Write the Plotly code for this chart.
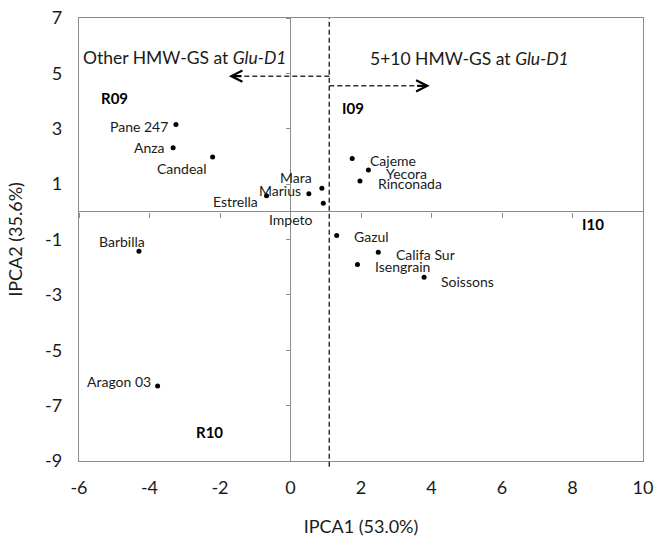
import plotly.graph_objects as go

# ---- data ----
names = ["Pane 247", "Anza", "Candeal", "Estrella", "Marius", "Mara", "Impeto",
         "Cajeme", "Yecora", "Rinconada", "Gazul", "Califa Sur", "Isengrain",
         "Soissons", "Barbilla", "Aragon 03"]
ipca1 = [-3.25, -3.33, -2.21, -0.68, 0.52, 0.89, 0.93,
         1.75, 2.21, 1.97, 1.31, 2.49, 1.90, 3.79, -4.30, -3.77]
ipca2 = [3.15, 2.31, 1.98, 0.58, 0.65, 0.85, 0.31,
         1.93, 1.51, 1.11, -0.86, -1.46, -1.90, -2.36, -1.42, -6.29]

env_names = ["R09", "I09", "I10", "R10"]
env_x = [-4.98, 1.77, 8.58, -2.31]
env_y = [4.10, 3.75, -0.44, -7.94]

x_ticks = [-6, -4, -2, 0, 2, 4, 6, 8, 10]
y_ticks = [-9, -7, -5, -3, -1, 1, 3, 5, 7]
x_range = [-6, 10]
y_range = [-9, 7]

split_x = 1.1          # dashed separator between groups
left_arrow = (-1.75, 4.9)
right_arrow = (3.95, 4.55)

# label placement (anchor, x shift px, y shift px)
label_pos = {
    "Pane 247": ("right", -6, -2), "Anza": ("right", -6, 0),
    "Candeal": ("right", -4, -12), "Estrella": ("right", -7, -6),
    "Marius": ("right", -6, 3), "Mara": ("right", -8, 11),
    "Impeto": ("right", -8, -16), "Cajeme": ("left", 16, -2),
    "Yecora": ("left", 16, -3), "Rinconada": ("left", 16, -2),
    "Gazul": ("left", 15, -1), "Califa Sur": ("left", 16, -2),
    "Isengrain": ("left", 16, -2), "Soissons": ("left", 15, -4),
    "Barbilla": ("center", -17, 10), "Aragon 03": ("right", -5, 4),
}

FONT = "Lato"
TXT = "#1a1a1a"
GRID = "#8c8c8c"

fig = go.Figure()
fig.add_trace(go.Scatter(x=ipca1, y=ipca2, mode="markers",
                         marker=dict(color="black", size=5),
                         hoverinfo="text", text=names, showlegend=False))
# invisible trace to activate overlay axes for zero-line ticks
fig.add_trace(go.Scatter(x=[x_range[0]], y=[y_range[0]], xaxis="x2", yaxis="y2",
                         mode="markers", marker=dict(opacity=0), showlegend=False,
                         hoverinfo="skip"))

for n, xv, yv in zip(names, ipca1, ipca2):
    anc, dx, dy = label_pos[n]
    fig.add_annotation(x=xv, y=yv, text=n, showarrow=False, xanchor=anc,
                       yanchor="middle", xshift=dx, yshift=dy,
                       font=dict(family=FONT, size=14, color=TXT))

for n, xv, yv in zip(env_names, env_x, env_y):
    fig.add_annotation(x=xv, y=yv, text="<b>" + n + "</b>", showarrow=False,
                       font=dict(family=FONT, size=15, color="black"))

fig.add_annotation(x=-3.02, y=5.59, text="Other HMW-GS at <i>Glu-D1</i>",
                   showarrow=False, font=dict(family=FONT, size=17.5, color=TXT))
fig.add_annotation(x=5.07, y=5.55, text="5+10 HMW-GS at <i>Glu-D1</i>",
                   showarrow=False, font=dict(family=FONT, size=17.5, color=TXT))

dash_style = dict(color="#333333", width=1.5, dash="5px,3px")
frac_below = -0.013
fig.add_shape(type="line", xref="x", yref="paper", x0=split_x, x1=split_x,
              y0=frac_below, y1=1, line=dash_style)
fig.add_shape(type="line", xref="x", yref="y", x0=split_x, x1=left_arrow[0] + 0.15,
              y0=left_arrow[1], y1=left_arrow[1], line=dash_style)
fig.add_shape(type="line", xref="x", yref="y", x0=split_x, x1=right_arrow[0] - 0.15,
              y0=right_arrow[1], y1=right_arrow[1], line=dash_style)
for (hx, hy), tail in [(left_arrow, left_arrow[0] + 0.4), (right_arrow, right_arrow[0] - 0.4)]:
    fig.add_annotation(x=hx, y=hy, ax=tail, ay=hy, axref="x", ayref="y",
                       xref="x", yref="y", text="", showarrow=True,
                       arrowhead=5, arrowsize=1, arrowwidth=2.2,
                       arrowcolor="black")

axis_common = dict(showgrid=False, showline=True, linecolor=GRID, linewidth=1.3,
                   mirror=True, zeroline=True, zerolinecolor=GRID,
                   zerolinewidth=1.3, ticks="", automargin=False,
                   tickfont=dict(family=FONT, size=18, color=TXT))
fig.update_layout(
    width=657, height=537,
    margin=dict(l=79, r=14, t=18, b=76),
    plot_bgcolor="white", paper_bgcolor="white",
    xaxis=dict(range=x_range, tickvals=x_ticks, ticktext=[str(v) for v in x_ticks],
               ticklabelstandoff=10,
               title=dict(text="IPCA1 (53.0%)", standoff=24,
                          font=dict(family=FONT, size=18, color=TXT)),
               **axis_common),
    yaxis=dict(range=y_range, tickvals=y_ticks, ticktext=[str(v) for v in y_ticks],
               ticklabelstandoff=12,
               title=dict(text="IPCA2 (35.6%)", standoff=17,
                          font=dict(family=FONT, size=18, color=TXT)),
               **axis_common),
    xaxis2=dict(range=x_range, tickvals=x_ticks, overlaying="x", anchor="free",
                position=(0 - y_range[0]) / (y_range[1] - y_range[0]),
                showticklabels=False, ticks="outside", ticklen=5, tickcolor=GRID,
                showline=False, showgrid=False, zeroline=False, automargin=False),
    yaxis2=dict(range=y_range, tickvals=y_ticks, overlaying="y", anchor="free",
                position=(0 - x_range[0]) / (x_range[1] - x_range[0]),
                showticklabels=False, ticks="outside", ticklen=5, tickcolor=GRID,
                showline=False, showgrid=False, zeroline=False, automargin=False),
    showlegend=False,
)

fig.write_html("out.html", config={"displayModeBar": False},
               post_script="document.body.style.margin='0';"
                           "document.body.style.overflow='hidden';")
